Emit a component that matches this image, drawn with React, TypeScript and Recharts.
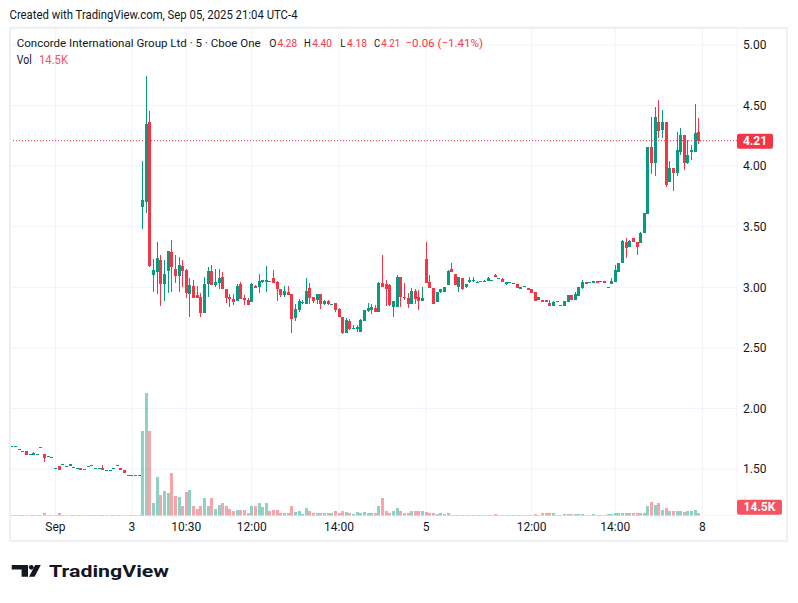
import React from "react";
import { Bar, CartesianGrid, ComposedChart, ReferenceLine, XAxis, YAxis } from "recharts";

const UP = "#089981";
const DOWN = "#f23645";
const UP_VOL = "rgba(8, 153, 129, 0.45)";
const DOWN_VOL = "rgba(242, 54, 69, 0.45)";
const TEXT = "#131722";
const FONT = "Roboto, 'DejaVu Sans', sans-serif";

// 5-minute bars, Sep 2 -> Sep 5
const opens = [
  1.69, 1.69, 1.663, 1.65, 1.65, 1.622, 1.62, 1.622, 1.68, 1.625,
  1.608, 1.597, 1.507, 1.525, 1.54, 1.525, 1.525, 1.515, 1.507, 1.51,
  1.497, 1.522, 1.53, 1.507, 1.507, 1.507, 1.492, 1.492, 1.51, 1.537,
  1.505, 1.49, 1.452, 1.452, 1.452, 1.452, 3.665, 3.706, 4.366, 3.104,
  3.129, 3.225, 3.03, 3.137, 3.29, 3.15, 3.096, 3.176, 3.143, 2.945,
  3.01, 2.936, 2.917, 2.79, 3.025, 3.135, 3.019, 3.033, 3.082, 2.986,
  2.922, 2.904, 2.887, 3.027, 2.91, 2.895, 2.881, 3.01, 3.0, 3.046,
  3.046, 3.05, 3.074, 3.047, 2.986, 2.937, 2.964, 2.942, 2.744, 2.813,
  2.874, 2.863, 2.992, 2.917, 2.896, 2.945, 2.863, 2.887, 2.86, 2.874,
  2.821, 2.753, 2.626, 2.725, 2.659, 2.654, 2.634, 2.725, 2.805, 2.813,
  2.832, 2.799, 3.038, 3.028, 3.019, 2.84, 2.84, 3.088, 2.923, 2.909,
  2.863, 2.973, 2.923, 2.89, 3.231, 3.047, 2.992, 2.882, 2.959, 2.964,
  3.019, 3.151, 3.11, 3.0, 3.074, 3.0, 3.041, 3.052, 3.044, 3.05,
  3.046, 3.054, 3.06, 3.101, 3.074, 3.066, 3.03, 3.041, 3.033, 3.027,
  2.983, 3.01, 2.997, 2.986, 2.964, 2.895, 2.895, 2.895, 2.873, 2.848,
  2.887, 2.854, 2.848, 2.881, 2.936, 2.895, 2.931, 2.997, 3.046, 3.041,
  3.038, 3.052, 3.041, 3.052, 2.999, 3.027, 3.046, 3.129, 3.198, 3.377,
  3.336, 3.404, 3.377, 3.369, 3.451, 3.605, 4.155, 4.028, 4.361, 4.298,
  4.361, 3.872, 3.982, 3.94, 4.119, 4.257, 4.028, 4.12, 4.12, 4.28,
];
const highs = [
  1.69, 1.69, 1.663, 1.65, 1.65, 1.622, 1.64, 1.622, 1.68, 1.625,
  1.608, 1.597, 1.507, 1.525, 1.54, 1.525, 1.54, 1.515, 1.507, 1.51,
  1.497, 1.522, 1.53, 1.507, 1.507, 1.53, 1.492, 1.492, 1.51, 1.537,
  1.505, 1.49, 1.452, 1.452, 1.452, 1.452, 4.045, 4.743, 4.455, 3.231,
  3.374, 3.266, 3.225, 3.3, 3.39, 3.266, 3.253, 3.225, 3.149, 3.079,
  3.06, 3.01, 2.95, 3.087, 3.17, 3.184, 3.149, 3.149, 3.129, 2.986,
  2.945, 2.945, 3.027, 3.04, 2.936, 2.91, 3.038, 3.019, 3.11, 3.06,
  3.176, 3.055, 3.143, 3.055, 2.986, 3.01, 3.01, 2.942, 2.863, 2.904,
  2.896, 3.074, 3.033, 2.923, 2.945, 2.945, 2.896, 2.896, 2.866, 2.874,
  2.827, 2.758, 2.744, 2.736, 2.689, 2.689, 2.736, 2.813, 2.874, 2.863,
  2.854, 3.047, 3.267, 3.06, 3.025, 2.89, 3.102, 3.088, 3.033, 2.956,
  2.992, 2.984, 2.978, 3.005, 3.377, 3.102, 2.992, 2.964, 2.984, 3.005,
  3.143, 3.198, 3.11, 3.088, 3.08, 3.028, 3.088, 3.082, 3.048, 3.054,
  3.06, 3.082, 3.062, 3.11, 3.076, 3.074, 3.041, 3.041, 3.033, 3.027,
  3.005, 3.01, 2.997, 2.986, 2.964, 2.917, 2.895, 2.895, 2.895, 2.89,
  2.887, 2.854, 2.887, 2.936, 2.936, 2.964, 3.005, 3.06, 3.046, 3.041,
  3.052, 3.052, 3.054, 3.052, 3.005, 3.079, 3.184, 3.203, 3.39, 3.404,
  3.39, 3.404, 3.377, 3.459, 3.61, 4.155, 4.408, 4.49, 4.545, 4.463,
  4.361, 4.042, 3.982, 4.284, 4.312, 4.257, 4.216, 4.174, 4.512, 4.4,
];
const lows = [
  1.69, 1.69, 1.663, 1.65, 1.62, 1.622, 1.615, 1.622, 1.68, 1.56,
  1.608, 1.597, 1.507, 1.495, 1.54, 1.525, 1.525, 1.515, 1.507, 1.495,
  1.497, 1.522, 1.53, 1.507, 1.507, 1.495, 1.492, 1.492, 1.51, 1.537,
  1.49, 1.467, 1.452, 1.452, 1.452, 1.452, 3.479, 3.616, 3.17, 2.964,
  2.942, 2.848, 2.89, 2.95, 2.964, 3.033, 2.964, 3.005, 2.914, 2.757,
  2.914, 2.914, 2.757, 2.79, 2.922, 3.019, 3.005, 2.99, 2.986, 2.868,
  2.84, 2.854, 2.887, 2.9, 2.854, 2.854, 2.881, 2.992, 2.955, 3.033,
  2.964, 3.045, 3.033, 2.89, 2.923, 2.923, 2.937, 2.626, 2.725, 2.799,
  2.863, 2.863, 2.863, 2.868, 2.863, 2.82, 2.854, 2.854, 2.86, 2.799,
  2.753, 2.615, 2.62, 2.648, 2.654, 2.634, 2.634, 2.725, 2.799, 2.78,
  2.799, 2.799, 3.0, 2.846, 2.849, 2.758, 2.84, 2.84, 2.896, 2.827,
  2.863, 2.863, 2.813, 2.89, 3.038, 2.997, 2.863, 2.882, 2.951, 2.964,
  3.019, 3.129, 3.019, 2.959, 2.978, 2.992, 3.033, 3.046, 3.04, 3.05,
  3.046, 3.054, 3.06, 3.082, 3.074, 3.046, 3.016, 3.041, 3.033, 2.997,
  2.983, 3.01, 2.978, 2.956, 2.89, 2.895, 2.881, 2.881, 2.848, 2.848,
  2.887, 2.854, 2.848, 2.881, 2.895, 2.895, 2.931, 2.99, 3.03, 3.041,
  3.038, 3.038, 3.041, 3.038, 2.999, 3.027, 3.046, 3.129, 3.198, 3.239,
  3.336, 3.377, 3.267, 3.369, 3.451, 3.605, 3.935, 3.918, 4.229, 4.229,
  3.83, 3.869, 3.798, 3.918, 4.092, 3.968, 4.017, 4.05, 4.12, 4.18,
];
const closes = [
  1.69, 1.69, 1.663, 1.65, 1.62, 1.622, 1.635, 1.622, 1.68, 1.594,
  1.608, 1.597, 1.507, 1.495, 1.54, 1.525, 1.54, 1.515, 1.507, 1.495,
  1.497, 1.522, 1.53, 1.507, 1.507, 1.495, 1.492, 1.492, 1.51, 1.537,
  1.49, 1.467, 1.452, 1.452, 1.452, 1.452, 3.72, 4.347, 3.176, 3.143,
  3.242, 3.03, 3.11, 3.3, 3.17, 3.096, 3.184, 3.137, 2.955, 3.019,
  2.914, 2.914, 2.79, 3.025, 3.135, 3.019, 3.04, 3.074, 2.986, 2.914,
  2.9, 2.881, 3.01, 2.9, 2.895, 2.854, 3.027, 2.997, 3.055, 3.06,
  3.06, 3.05, 3.038, 2.984, 2.937, 2.973, 2.937, 2.739, 2.818, 2.89,
  2.878, 2.973, 2.909, 2.89, 2.945, 2.86, 2.89, 2.86, 2.863, 2.813,
  2.753, 2.626, 2.73, 2.654, 2.667, 2.676, 2.73, 2.813, 2.827, 2.835,
  2.799, 3.038, 3.0, 2.984, 2.854, 2.887, 3.088, 2.923, 2.909, 2.863,
  2.973, 2.904, 2.89, 2.909, 3.038, 2.997, 2.863, 2.959, 2.984, 3.005,
  3.138, 3.129, 3.019, 3.088, 2.984, 3.028, 3.06, 3.058, 3.046, 3.052,
  3.054, 3.074, 3.06, 3.082, 3.074, 3.046, 3.04, 3.041, 3.033, 2.997,
  3.005, 3.01, 2.978, 2.956, 2.89, 2.917, 2.881, 2.881, 2.848, 2.881,
  2.887, 2.854, 2.887, 2.936, 2.895, 2.944, 3.005, 3.046, 3.03, 3.041,
  3.052, 3.038, 3.054, 3.038, 3.005, 3.052, 3.143, 3.203, 3.382, 3.322,
  3.382, 3.377, 3.336, 3.451, 3.61, 4.155, 4.028, 4.408, 4.293, 4.361,
  3.844, 3.982, 3.946, 4.133, 4.257, 4.028, 4.092, 4.133, 4.276, 4.21,
];
// volume, thousands of shares
const volumes = [
  5, 4, 4, 5, 5, 5, 5, 4, 4, 16,
  5, 5, 5, 11, 5, 5, 5, 4, 4, 5,
  4, 4, 4, 4, 4, 5, 4, 4, 4, 4,
  5, 5, 4, 4, 4, 4, 459, 660, 455, 66,
  207, 113, 131, 120, 228, 108, 99, 49, 126, 140,
  49, 34, 49, 97, 54, 92, 34, 59, 70, 54,
  34, 27, 32, 32, 32, 12, 49, 49, 65, 45,
  65, 27, 32, 32, 16, 16, 16, 54, 20, 22,
  9, 43, 22, 16, 12, 12, 16, 12, 12, 22,
  16, 27, 18, 12, 9, 20, 11, 20, 16, 16,
  12, 49, 96, 27, 16, 27, 43, 27, 16, 16,
  22, 22, 22, 27, 18, 16, 16, 7, 11, 7,
  11, 5, 5, 5, 5, 5, 5, 5, 5, 5,
  5, 5, 5, 7, 5, 5, 5, 5, 5, 5,
  5, 5, 5, 5, 7, 5, 12, 12, 12, 12,
  5, 5, 7, 7, 7, 7, 7, 7, 5, 5,
  7, 5, 5, 5, 7, 7, 11, 11, 16, 12,
  12, 12, 12, 14, 16, 54, 72, 59, 70, 32,
  40, 22, 22, 27, 27, 18, 27, 27, 31, 14.5,
];

const SLOTS = 200; // bars plus the empty right margin
const timeTicks = [12, 33, 48, 66, 90, 114, 143, 166, 190];
const timeLabels = ["Sep", "3", "10:30", "12:00", "14:00", "5", "12:00", "14:00", "8"];
const priceTicks = [1.5, 2, 2.5, 3, 3.5, 4, 4.5, 5];
const priceDomain = [1.117, 5.148];
const volumeDomain = [0, 2640];
const lastClose = 4.21;
const lastVolume = 14.5;

const rows = Array.from({ length: SLOTS }, (_, i) => {
  if (i >= opens.length) return { i };
  const o = opens[i];
  const c = closes[i];
  const prev = i > 0 ? closes[i - 1] : c;
  const volUp = c === o ? c >= prev : c > o;
  return {
    i,
    o,
    h: highs[i],
    l: lows[i],
    c,
    range: [lows[i], highs[i]],
    v: volumes[i],
    volColor: volUp ? UP_VOL : DOWN_VOL,
  };
});

function Candle(props: any) {
  const { x, y, width, height, payload } = props;
  if (payload == null || payload.o == null) return null;
  const { o, h, l, c } = payload;
  const top = Math.min(y, y + height);
  const span = Math.abs(height);
  const toY = (p: number) => (h === l ? top : top + ((h - p) / (h - l)) * span);
  const color = c >= o ? UP : DOWN;
  const left = Math.round(x + width / 2 - 1.5);
  const wTop = Math.round(top);
  const wBot = Math.round(top + span);
  const bTop = Math.round(toY(Math.max(o, c)));
  const bBot = Math.round(toY(Math.min(o, c)));
  return (
    <g>
      <rect x={left + 1} y={wTop} width={1} height={Math.max(1, wBot - wTop)} fill={color} shapeRendering="crispEdges" />
      <rect x={left} y={bTop} width={3} height={Math.max(1, bBot - bTop)} fill={color} shapeRendering="crispEdges" />
    </g>
  );
}

function VolumeBar(props: any) {
  const { x, y, width, height, payload } = props;
  if (payload == null || payload.v == null) return null;
  const left = Math.round(x + width / 2 - 1.5);
  const bottom = Math.round(y + height);
  const top = Math.min(Math.round(y), bottom - 1);
  return <rect x={left} y={top} width={3} height={bottom - top} fill={payload.volColor} shapeRendering="crispEdges" />;
}

function Badge({ viewBox, text, color, w, dy }: any) {
  if (!viewBox) return null;
  const x = viewBox.x + viewBox.width;
  const y = viewBox.y + dy;
  return (
    <g>
      <rect x={x} y={y} width={w} height={15} rx={2} fill={color} />
      <text x={x + w / 2} y={y + 11.5} textAnchor="middle" fill="#fff" fontSize={12} fontWeight={700} fontFamily={FONT}>
        {text}
      </text>
    </g>
  );
}

function Header() {
  const red = "#f23645";
  const fit = "spacingAndGlyphs";
  return (
    <svg width={798} height={603} style={{ position: "absolute", left: 0, top: 0, pointerEvents: "none" }}>
      <rect x={10} y={28} width={777} height={513} fill="none" stroke="#eef0f3" strokeWidth={2} />
      <g fontFamily={FONT} fontSize={13} fill={TEXT}>
        <text x={9.5} y={19.3} textLength={288} lengthAdjust={fit}>
          Created with TradingView.com, Sep 05, 2025 21:04 UTC-4
        </text>
        <text x={16.7} y={46.7} fontSize={11} textLength={244} lengthAdjust={fit}>
          Concorde International Group Ltd · 5 · Cboe One
        </text>
        <text y={46.7} fontSize={11.5}>
          <tspan x={269.3} textLength={7.2} lengthAdjust={fit}>O</tspan>
          <tspan x={277.5} fill={red} textLength={19.5} lengthAdjust={fit}>4.28</tspan>
          <tspan x={304} textLength={6.8} lengthAdjust={fit}>H</tspan>
          <tspan x={312.3} fill={red} textLength={19.5} lengthAdjust={fit}>4.40</tspan>
          <tspan x={340.2} textLength={5.2} lengthAdjust={fit}>L</tspan>
          <tspan x={347} fill={red} textLength={20} lengthAdjust={fit}>4.18</tspan>
          <tspan x={374} textLength={6.2} lengthAdjust={fit}>C</tspan>
          <tspan x={381.3} fill={red} textLength={19} lengthAdjust={fit}>4.21</tspan>
          <tspan x={405.5} fill={red} textLength={77.5} lengthAdjust={fit}>−0.06 (−1.41%)</tspan>
        </text>
        <text y={63.5}>
          <tspan x={16.7} textLength={15} lengthAdjust={fit}>Vol</tspan>
          <tspan x={39} fill="#f7525f" textLength={29} lengthAdjust={fit}>14.5K</tspan>
        </text>
      </g>
      <g fill="#131722">
        <path d="M11.7 565 H28 V576.7 H21.6 V569.6 H11.7 Z" />
        <circle cx={31.3} cy={567.3} r={2.4} />
        <path d="M29 576.7 H34.6 L40.8 565 H35.2 Z" />
        <text x={49} y={576.7} fontFamily={FONT} fontSize={17} fontWeight={700} textLength={120} lengthAdjust={fit}>
          TradingView
        </text>
      </g>
    </svg>
  );
}

export default function App() {
  return (
    <div style={{ position: "absolute", left: 0, top: 0, width: 798, height: 603, background: "#fff", overflow: "hidden" }}>
      <ComposedChart width={798} height={545} data={rows} margin={{ top: 27, right: 0, bottom: 0, left: 10 }} barCategoryGap="10%">
        <CartesianGrid stroke="#f0f3fa" yAxisId="price" />
        <XAxis
          dataKey="i"
          ticks={timeTicks}
          interval={0}
          tickFormatter={(v: number) => timeLabels[timeTicks.indexOf(v)] ?? ""}
          axisLine={false}
          tickLine={false}
          tickSize={0}
          tickMargin={7}
          height={29.5}
          tick={{ fontSize: 12, fill: TEXT, fontFamily: FONT }}
        />
        <XAxis xAxisId="vol" dataKey="i" hide />
        <YAxis
          yAxisId="price"
          orientation="right"
          domain={priceDomain}
          allowDataOverflow
          ticks={priceTicks}
          tickFormatter={(v: number) => v.toFixed(2)}
          axisLine={false}
          tickLine={false}
          tickSize={0}
          tickMargin={6}
          width={61}
          tick={{ fontSize: 12, fill: TEXT, fontFamily: FONT, textAnchor: "start" }}
        />
        <YAxis yAxisId="vol" domain={volumeDomain} allowDataOverflow hide />
        <Bar xAxisId="vol" yAxisId="vol" dataKey="v" shape={VolumeBar} isAnimationActive={false} />
        <Bar yAxisId="price" dataKey="range" shape={Candle} isAnimationActive={false} />
        <ReferenceLine
          yAxisId="price"
          y={lastClose}
          stroke={DOWN}
          strokeDasharray="1 2"
          label={<Badge text={lastClose.toFixed(2)} color={DOWN} w={36} dy={-7} />}
        />
        <ReferenceLine
          yAxisId="vol"
          y={lastVolume}
          stroke="none"
          label={<Badge text={`${lastVolume}K`} color="#f7525f" w={45} dy={-13} />}
        />
      </ComposedChart>
      <Header />
    </div>
  );
}
